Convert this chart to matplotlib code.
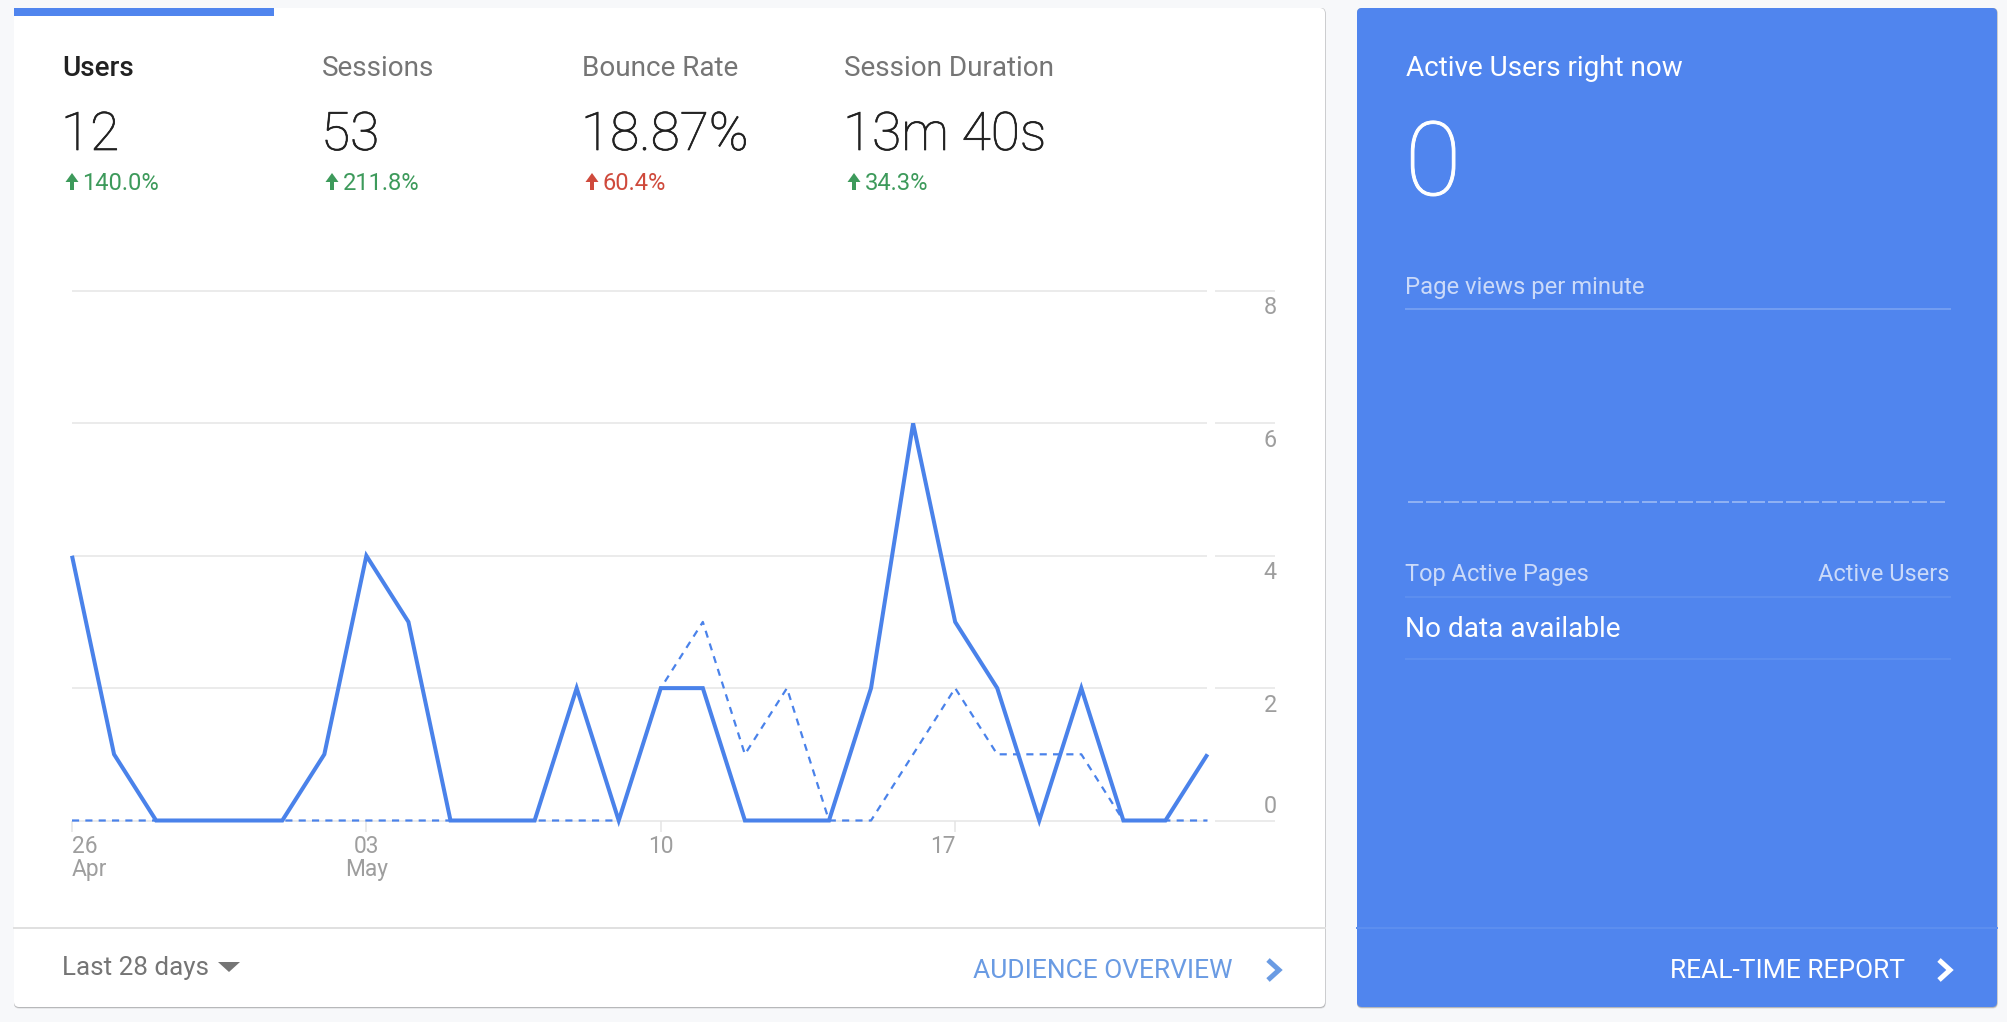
import matplotlib
matplotlib.use("Agg")
import matplotlib.pyplot as plt
import matplotlib.patheffects as pe
from matplotlib.patches import FancyBboxPatch, Rectangle, Polygon
from matplotlib.lines import Line2D

plt.rcParams['font.family'] = ['Roboto', 'DejaVu Sans']

# --- data ---
days = list(range(28))
users_current = [4, 1, 0, 0, 0, 0, 1, 4, 3, 0, 0, 0, 2, 0, 2, 2, 0, 0, 0, 2, 6, 3, 2, 0, 2, 0, 0, 1]
users_previous = [0, 0, 0, 0, 0, 0, 0, 0, 0, 0, 0, 0, 0, 0, 2, 3, 1, 2, 0, 0, 1, 2, 1, 1, 1, 0, 0, 0]
x_tick_pos = [0, 7, 14, 21]
x_tick_labels = ["26\nApr", "03\nMay", "10", "17"]
y_ticks = [0, 2, 4, 6, 8]
metric_names = ["Users", "Sessions", "Bounce Rate", "Session Duration"]
metric_values = ["12", "53", "18.87%", "13m 40s"]
metric_changes = ["140.0%", "211.8%", "60.4%", "34.3%"]
GREEN, RED = "#3D9A5B", "#CF4A3C"
metric_colors = [GREEN, GREEN, RED, GREEN]

W, H = 2008, 1022
BLUE = "#5085EE"
LINE = "#4A82EA"
PT = 0.72  # px -> pt at dpi 100

fig = plt.figure(figsize=(W / 100, H / 100), dpi=100, facecolor="#F7F8FA")
bg = fig.add_axes([0, 0, 1, 1])
bg.set_xlim(0, W)
bg.set_ylim(H, 0)
bg.axis("off")


def card(x0, y0, x1, y1, color):
    for off, c in ((1.5, "#D9DADC"), (0.7, "#A9AAAC")):
        bg.add_patch(FancyBboxPatch((x0 + 3, y0 + 3), x1 - x0 - 6 + off / 2, y1 - y0 + off - 6,
                                    boxstyle="round,pad=3,rounding_size=5",
                                    fc=c, ec="none", zorder=1))
    bg.add_patch(FancyBboxPatch((x0 + 3, y0 + 3), x1 - x0 - 6, y1 - y0 - 6,
                                boxstyle="round,pad=3,rounding_size=5",
                                fc=color, ec="none", zorder=2))


card(14, 8, 1325, 1007, "white")
card(1357, 8, 1997, 1007, BLUE)

bg.add_patch(Rectangle((14, 8), 260, 8, fc=BLUE, ec="none", zorder=3))
bg.add_line(Line2D([14, 1325], [928, 928], color="#E0E0E0", lw=2 * PT, zorder=3))

thick = [pe.withStroke(linewidth=0.5, foreground="#212121")]
thick_w = [pe.withStroke(linewidth=0.7, foreground="white")]

# metric header
metric_x = [62, 322, 582, 844]
for i, x in enumerate(metric_x):
    active = i == 0
    bg.text(x, 76, metric_names[i], fontsize=20.1, color="#212121" if active else "#757575",
            fontweight="medium" if active else "normal", va="baseline", zorder=4)
    bg.text(x - 1, 150, metric_values[i], fontsize=38.3, color="#212121",
            fontweight="light", va="baseline", zorder=4, path_effects=thick)
    bg.text(x + 20.5, 190, metric_changes[i], fontsize=17.1, color=metric_colors[i],
            va="baseline", zorder=4)
    ax0 = x + 10
    bg.add_patch(Polygon([(ax0 - 6.5, 182), (ax0, 173), (ax0 + 6.5, 182), (ax0 + 2, 182), (ax0 + 2, 190),
                          (ax0 - 2, 190), (ax0 - 2, 182)], fc=metric_colors[i], ec="none", zorder=4))

# footer left
bg.text(62, 975, "Last 28 days", fontsize=18.7, color="#757575", va="baseline", zorder=4)
bg.add_patch(Polygon([(218, 962), (240, 962), (229, 972)], fc="#757575", ec="none", zorder=4))
bg.text(973, 978, "AUDIENCE OVERVIEW", fontsize=19, color="#6A9BE3", va="baseline", zorder=4)
bg.add_line(Line2D([1268, 1279, 1268], [960, 970, 980], color="#6A9BE3", lw=5 * PT, zorder=4,
                   solid_joinstyle="miter", solid_capstyle="butt"))

# right card
LIGHT = "#CBDAF9"
bg.text(1406, 76, "Active Users right now", fontsize=20.1, color="white", va="baseline", zorder=4)
bg.text(1405, 195, "0", fontsize=74, color="white", fontweight="light", va="baseline", zorder=4,
        path_effects=thick_w)
bg.text(1405, 294, "Page views per minute", fontsize=17.2, color=LIGHT, va="baseline", zorder=4)
bg.add_line(Line2D([1406, 1950], [309, 309], color="#729DF1", lw=2 * PT, zorder=4))
bg.add_line(Line2D([1408, 1946], [502, 502], color="#8FB1F3", lw=2 * PT, zorder=4,
                   linestyle=(0, (7.5, 1.5)), dash_capstyle="butt"))
bg.text(1405, 581, "Top Active Pages", fontsize=17, color=LIGHT, va="baseline", zorder=4)
bg.text(1949, 581, "Active Users", fontsize=17, color=LIGHT, ha="right", va="baseline", zorder=4)
bg.add_line(Line2D([1406, 1950], [597, 597], color="#5C8EEF", lw=2 * PT, zorder=4))
bg.text(1405, 637, "No data available", fontsize=20.2, color="white", va="baseline", zorder=4)
bg.add_line(Line2D([1406, 1950], [659, 659], color="#5C8EEF", lw=2 * PT, zorder=4))
bg.add_line(Line2D([1357, 1997], [928, 928], color="#5C8EEF", lw=2 * PT, zorder=4))
bg.text(1670, 978, "REAL-TIME REPORT", fontsize=19, color="white", va="baseline", zorder=4)
bg.add_line(Line2D([1939, 1950, 1939], [960, 970, 980], color="white", lw=5 * PT, zorder=4,
                   solid_joinstyle="miter", solid_capstyle="butt"))

# chart
x_l, x_r, y_t, y_b = 72.0, 1207.5, 291.0, 820.5
ax = fig.add_axes([x_l / W, 1 - y_b / H, (x_r - x_l) / W, (y_b - y_t) / H])
ax.patch.set_alpha(0)
ax.set_xlim(days[0], days[-1])
ax.set_ylim(y_ticks[0], y_ticks[-1])
for s in ax.spines.values():
    s.set_visible(False)

GRID = "#EBEBEB"
right_ext = (1275.5 - x_r) / (x_r - x_l)
gap = (1215.5 - x_r) / (x_r - x_l)
for v in y_ticks:
    ax.plot([0, 1], [v, v], transform=ax.get_yaxis_transform(), color=GRID, lw=2 * PT,
            zorder=1, clip_on=False, solid_capstyle="butt")
    ax.plot([1 + gap, 1 + right_ext], [v, v], transform=ax.get_yaxis_transform(), color=GRID,
            lw=2 * PT, zorder=1, clip_on=False, solid_capstyle="butt")
    ax.annotate(str(v), xy=(1 + right_ext, v), xycoords=("axes fraction", "data"),
                xytext=(1, 8 * PT if v == y_ticks[0] else -23.5 * PT), textcoords="offset points",
                ha="right", va="baseline", fontsize=16.8, color="#9E9E9E")

ax.set_yticks([])
ax.set_xticks(x_tick_pos)
ax.set_xticklabels(x_tick_labels, fontsize=16.4, color="#9E9E9E", linespacing=1.0)
ax.tick_params(axis="x", length=11 * PT, width=1.5 * PT, color="#E4E4E4", pad=3 * PT)
for lab, ha in zip(ax.get_xticklabels(), ["left", "center", "center", "right"]):
    lab.set_ha(ha)
    lab.set_multialignment(ha)

ax.plot(days, users_previous, color=LINE, lw=1.6, linestyle=(0, (3.2, 2.8)), clip_on=False, zorder=3)
ax.plot(days, users_current, color=LINE, lw=2.9, clip_on=False, zorder=4,
        solid_joinstyle="miter", solid_capstyle="butt")

fig.savefig("out.png", dpi=100, facecolor=fig.get_facecolor())
